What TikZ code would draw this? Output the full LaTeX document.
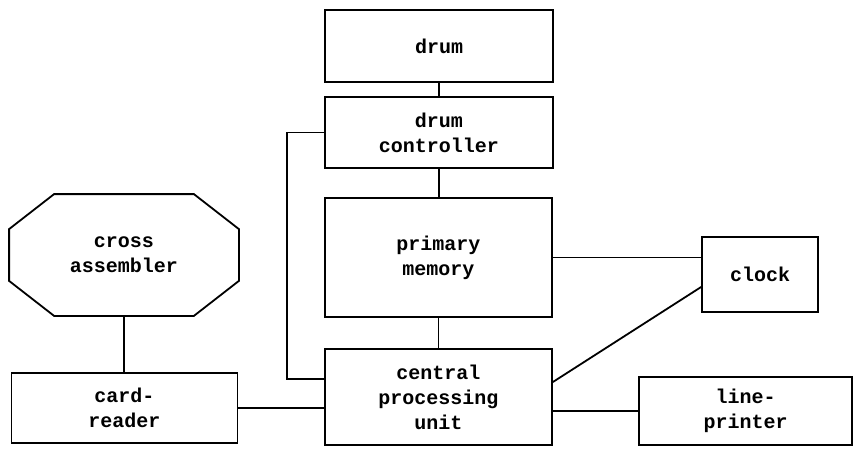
\documentclass[tikz,border=0pt]{standalone}
\usepackage{fontspec}
\newfontfamily\unitfont{Liberation Mono}
\usetikzlibrary{calc,positioning}

\begin{document}
\begin{tikzpicture}[x=1pt,y=-1pt,line width=1.8pt,
  unit/.style={draw,rectangle,align=center,inner sep=0pt,
    font=\unitfont\bfseries\fontsize{20}{25}\selectfont}]
\useasboundingbox (0,0) rectangle (857,448);
% boxes
\node[unit,minimum width=228pt,minimum height=72pt] (drum) at (439,46) {drum};
\node[unit,minimum width=228pt,minimum height=71pt] (ctrl) at (439,132.5) {drum\\controller};
\node[unit,minimum width=227pt,minimum height=119pt] (mem) at (438.5,257.5) {primary\\memory};
\node[unit,minimum width=227pt,minimum height=96pt] (cpu) at (438.5,397) {central\\processing\\unit};
\node[unit,minimum width=116pt,minimum height=75pt] (clock) at (760,274.5) {clock};
\node[unit,minimum width=213pt,minimum height=68pt] (printer) at (745.5,411) {line-\\printer};
\node[unit,minimum width=226pt,minimum height=70pt] (card) at (124.5,408) {card-\\reader};
% octagon
\node[unit,draw=none,minimum width=228pt,minimum height=120pt] (cross) at (124,255) {cross\\assembler};
\draw ($(cross.north west)+(45,0)$) -- ($(cross.north east)+(-45,0)$)
  -- ($(cross.north east)+(0,35)$) -- ($(cross.south east)+(0,-35)$)
  -- ($(cross.south east)+(-45,0)$) -- ($(cross.south west)+(45,0)$)
  -- ($(cross.south west)+(0,-35)$) -- ($(cross.north west)+(0,35)$) -- cycle;
% links
\draw (drum.south) -- (drum.south |- ctrl.north);
\draw (ctrl.south) -- (ctrl.south |- mem.north);
\draw (mem.south) -- (mem.south |- cpu.north);
\coordinate (loop) at (287,379);
\draw (ctrl.west) -| (loop) -- (loop -| cpu.west);
\draw (mem.east) -- (mem.east -| clock.west);
\draw ([yshift=15pt]cpu.east) -- ([yshift=-12.5pt]clock.west);
\draw (printer.west) -- (printer.west -| cpu.east);
\draw (cross.south) -- (cross.south |- card.north);
\draw (card.east) -- (card.east -| cpu.west);
\end{tikzpicture}
\end{document}
